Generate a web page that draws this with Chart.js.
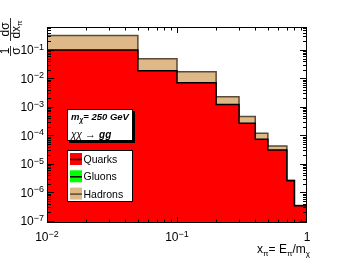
<!DOCTYPE html>
<html>
<head>
<meta charset="utf-8">
<script src="https://cdn.jsdelivr.net/npm/chart.js@4.4.1/dist/chart.umd.min.js"></script>
<style>
  html, body { margin: 0; padding: 0; background: #fff; }
</style>
</head>
<body>
<canvas id="myChart" width="341" height="264"></canvas>
<script>
// histogram bins (x = E_pi / m_chi)
const binEdges = [0.01, 0.05, 0.1, 0.2, 0.3, 0.4, 0.5, 0.7, 0.8, 1.0];
const quarks  = [0.1, 0.0188, 0.0071, 0.00123, 2.7e-4, 7.4e-5, 3.1e-5, 2.6e-6, 3.4e-7];
const gluons  = [null, null, null, null, null, null, null, null, null];
const hadrons = [0.32, 0.0496, 0.0173, 0.0023, 4.6e-4, 1.2e-4, 4.3e-5, 2.7e-6, 3.5e-7];

const xTicks = [0.01, 0.1, 1];
const xTickLabels = [['10', '\u22122'], ['10', '\u22121'], ['1', '']];
const yTicks = [1e-7, 1e-6, 1e-5, 1e-4, 1e-3, 1e-2, 1e-1];
const yTickLabels = [['10', '\u22127'], ['10', '\u22126'], ['10', '\u22125'], ['10', '\u22124'],
                     ['10', '\u22123'], ['10', '\u22122'], ['10', '\u22121']];

const legendNames = ['Quarks', 'Gluons', 'Hadrons'];
const FONT = "'Liberation Sans', Arial, sans-serif";

// bin contents -> step points: first bin opens at its left edge, others at their right edge
function steps(values) {
  const pts = [{x: binEdges[0], y: values[0]}];
  values.forEach((v, i) => pts.push({x: binEdges[i + 1], y: v}));
  return pts;
}

// draw a run of text pieces with different fonts / offsets, returns width
function runs(ctx, x, y, parts, measureOnly) {
  let w = 0;
  for (const p of parts) {
    ctx.font = p.font;
    if (!measureOnly) ctx.fillText(p.t, x + w, y + (p.dy || 0));
    w += ctx.measureText(p.t).width;
  }
  return w;
}

const overlay = {
  id: 'overlay',
  afterDatasetsDraw(chart) {
    const {ctx, chartArea: a, scales: {x, y}} = chart;
    ctx.save();
    ctx.strokeStyle = '#000';
    ctx.lineWidth = 1;
    ctx.beginPath();
    // x ticks, inside, top and bottom
    for (let e = -2; e < 0; e++) {
      for (let k = 1; k < 10; k++) {
        const px = Math.round(x.getPixelForValue(k * Math.pow(10, e))) + 0.5;
        const len = k === 1 ? 6 : 3.5;
        ctx.moveTo(px, a.bottom); ctx.lineTo(px, a.bottom - len);
        ctx.moveTo(px, a.top); ctx.lineTo(px, a.top + len);
      }
    }
    // y ticks, inside, left and right
    for (let e = -8; e < 0; e++) {
      for (let k = 1; k < 10; k++) {
        const v = k * Math.pow(10, e);
        if (v < y.min || v > y.max) continue;
        const py = Math.round(y.getPixelForValue(v)) + 0.5;
        const len = k === 1 ? 7 : 4;
        ctx.moveTo(a.left, py); ctx.lineTo(a.left + len, py);
        ctx.moveTo(a.right, py); ctx.lineTo(a.right - len, py);
      }
    }
    ctx.stroke();
    ctx.strokeRect(a.left + 0.5, a.top + 0.5, a.right - a.left - 1, a.bottom - a.top - 1);
    ctx.restore();
  },
  afterDraw(chart) {
    const {ctx, chartArea: a, scales: {x, y}} = chart;
    ctx.save();
    ctx.fillStyle = '#000';
    ctx.textBaseline = 'alphabetic';
    ctx.textAlign = 'left';
    const base = '12px ' + FONT, sup = '9px ' + FONT;

    // x tick labels
    xTicks.forEach((v, i) => {
      const parts = [{t: xTickLabels[i][0], font: base}, {t: xTickLabels[i][1], font: sup, dy: -4.5}];
      const w = runs(ctx, 0, 0, parts, true);
      runs(ctx, x.getPixelForValue(v) - w / 2, a.bottom + 18, parts);
    });
    // y tick labels
    yTicks.forEach((v, i) => {
      const parts = [{t: yTickLabels[i][0], font: base}, {t: yTickLabels[i][1], font: sup, dy: -4.5}];
      const w = runs(ctx, 0, 0, parts, true);
      runs(ctx, a.left - 3 - w, y.getPixelForValue(v) + 4.3, parts);
    });

    // x title
    const xt = [
      {t: 'x', font: base}, {t: '\u03c0', font: '8px ' + FONT, dy: 3},
      {t: '= E', font: base}, {t: '\u03c0', font: '8px ' + FONT, dy: 3},
      {t: '/m', font: base}, {t: '\u03c7', font: '8px ' + FONT, dy: 3}
    ];
    const xw = runs(ctx, 0, 0, xt, true);
    runs(ctx, 310 - xw, 253, xt);

    // y title: 1/sigma dsigma/dx_pi, rotated
    ctx.save();
    ctx.translate(10.5, 57);
    ctx.rotate(-Math.PI / 2);
    const f12 = '12px ' + FONT;
    ctx.lineWidth = 0.8;
    ctx.strokeStyle = '#000';
    ctx.beginPath();
    ctx.moveTo(1, 0); ctx.lineTo(11, 0);
    ctx.moveTo(16, 0); ctx.lineTo(39, 0);
    ctx.stroke();
    ctx.textAlign = 'center';
    ctx.font = f12;
    ctx.fillText('1', 6, -2);
    ctx.fillText('\u03c3', 6, 9);
    ctx.fillText('d\u03c3', 27.5, -2);
    ctx.textAlign = 'left';
    const den = [{t: 'dx', font: f12}, {t: '\u03c0', font: '8px ' + FONT, dy: 2}];
    const dw = runs(ctx, 0, 0, den, true);
    runs(ctx, 27.5 - dw / 2, 9, den);
    ctx.restore();

    // info box with shadow
    ctx.fillStyle = '#000';
    ctx.fillRect(69, 111, 66, 32);
    ctx.fillStyle = '#fff';
    ctx.fillRect(67, 109, 66, 32);
    ctx.strokeStyle = '#000';
    ctx.lineWidth = 1;
    ctx.strokeRect(67.5, 109.5, 65, 31);
    ctx.fillStyle = '#000';
    const bi = 'italic bold 9.5px ' + FONT;
    runs(ctx, 71, 120, [
      {t: 'm', font: bi}, {t: '\u03c7', font: 'italic bold 6.5px ' + FONT, dy: 2},
      {t: '= 250 GeV', font: bi}
    ]);
    runs(ctx, 71, 137.5, [
      {t: '\u03c7\u03c7', font: 'italic 10px ' + FONT},
      {t: ' \u2192 ', font: '11px ' + FONT},
      {t: 'gg', font: 'italic bold 10px ' + FONT}
    ]);

    // legend box
    ctx.fillStyle = '#fff';
    ctx.fillRect(67, 150, 66, 52);
    ctx.strokeRect(67.5, 150.5, 65, 51);
    const sets = chart.data.datasets;
    legendNames.forEach((name, i) => {
      const cy = 159 + i * 17.3;
      ctx.fillStyle = sets[i].backgroundColor;
      ctx.fillRect(70, cy - 6, 12, 12);
      ctx.strokeStyle = sets[i].borderColor;
      ctx.lineWidth = 1.5;
      ctx.beginPath();
      ctx.moveTo(70, cy + 0.5); ctx.lineTo(82, cy + 0.5);
      ctx.stroke();
      ctx.fillStyle = '#000';
      ctx.font = '10.5px ' + FONT;
      ctx.fillText(name, 83.5, cy + 4);
    });
    ctx.restore();
  }
};

const data = {
  datasets: [{
    label: 'Quarks',
    data: steps(quarks),
    backgroundColor: '#ff0000',
    borderColor: '#000000',
    borderWidth: 1.5,
    fill: 'start'
  }, {
    label: 'Gluons',
    data: steps(gluons),
    backgroundColor: '#00ff00',
    borderColor: '#000000',
    borderWidth: 1.5,
    fill: 'start'
  }, {
    label: 'Hadrons',
    data: steps(hadrons),
    backgroundColor: '#deb887',
    borderColor: '#5a4a36',
    borderWidth: 1.5,
    fill: 'start'
  }]
};

const config = {
  type: 'line',
  data: data,
  options: {
    responsive: false,
    animation: false,
    devicePixelRatio: 1,
    layout: {padding: {left: 47, right: 34, top: 27, bottom: 41}},
    elements: {
      line: {stepped: 'after', tension: 0},
      point: {radius: 0, hoverRadius: 0}
    },
    plugins: {
      legend: {display: false},
      tooltip: {enabled: false}
    },
    scales: {
      x: {type: 'logarithmic', min: 0.01, max: 1, display: false},
      y: {type: 'logarithmic', min: 8.5e-8, max: 0.64, display: false}
    }
  },
  plugins: [overlay]
};

new Chart(document.getElementById('myChart').getContext('2d'), config);
</script>
</body>
</html>
